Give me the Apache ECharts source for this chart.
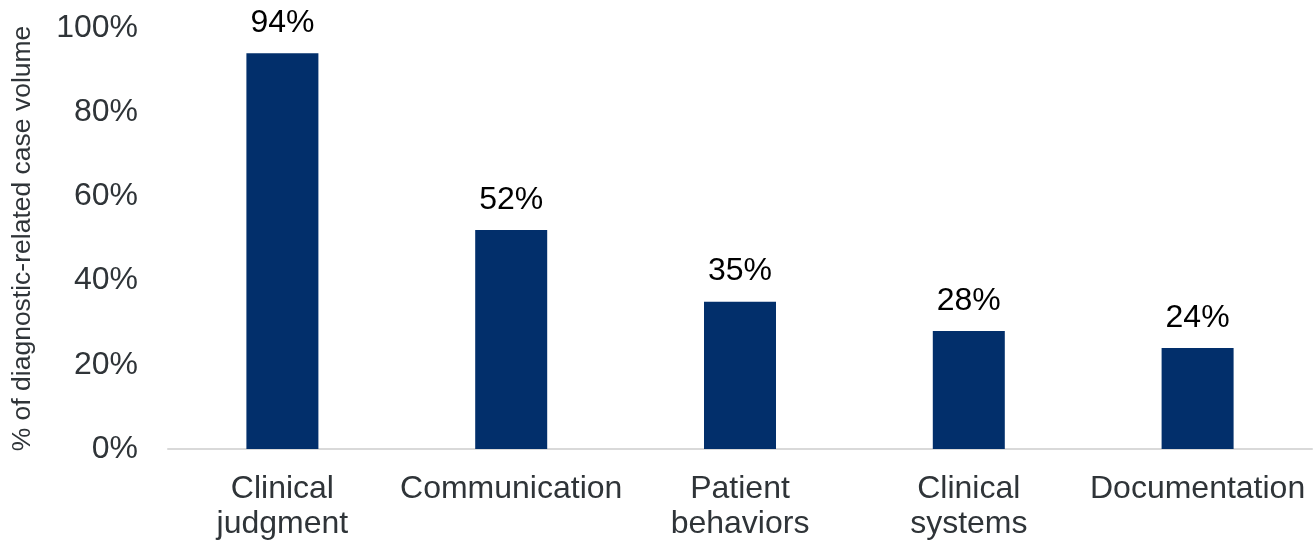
<!DOCTYPE html>
<html>
<head>
<meta charset="utf-8">
<script src="https://cdn.jsdelivr.net/npm/echarts@6/dist/echarts.min.js"></script>
<style>
  html, body { margin: 0; padding: 0; background: #fff; }
  #chart { width: 1315px; height: 542px; }
</style>
</head>
<body>
<div id="chart"></div>
<script>
// Contributing factors, share of diagnostic-related case volume
const categories = ['Clinical\njudgment', 'Communication', 'Patient\nbehaviors', 'Clinical\nsystems', 'Documentation'];
const values = [94, 52, 35, 28, 24];
const yTicks = [0, 20, 40, 60, 80, 100];

const font = '"Liberation Sans", Arial, sans-serif';
const chart = echarts.init(document.getElementById('chart'), null, { renderer: 'canvas' });

chart.setOption({
  animation: false,
  grid: { left: 168, right: 3, top: 28, bottom: 93, containLabel: false, outerBoundsMode: 'none' },
  xAxis: {
    type: 'category',
    data: categories,
    axisLine: { show: true, lineStyle: { color: '#d9d9d9', width: 2 } },
    axisTick: { show: false },
    axisLabel: {
      color: '#2f3438',
      fontFamily: font,
      fontSize: 32,
      lineHeight: 35,
      margin: 23,
      interval: 0
    }
  },
  yAxis: {
    type: 'value',
    min: yTicks[0],
    max: yTicks[yTicks.length - 1],
    interval: 20,
    name: '% of diagnostic-related case volume',
    nameLocation: 'middle',
    nameGap: 132,
    nameRotate: 90,
    nameTextStyle: { color: '#2f3438', fontFamily: font, fontSize: 26.5 },
    axisLine: { show: false },
    axisTick: { show: false },
    splitLine: { show: false },
    axisLabel: {
      color: '#2f3438',
      fontFamily: font,
      fontSize: 32,
      margin: 30,
      formatter: v => v + '%'
    }
  },
  series: [{
    type: 'bar',
    data: values,
    barWidth: 72,
    itemStyle: { color: '#022f6b' },
    label: {
      show: true,
      position: 'top',
      distance: 14,
      color: '#000',
      fontFamily: font,
      fontSize: 32,
      formatter: p => p.value + '%'
    }
  }]
});
</script>
</body>
</html>
